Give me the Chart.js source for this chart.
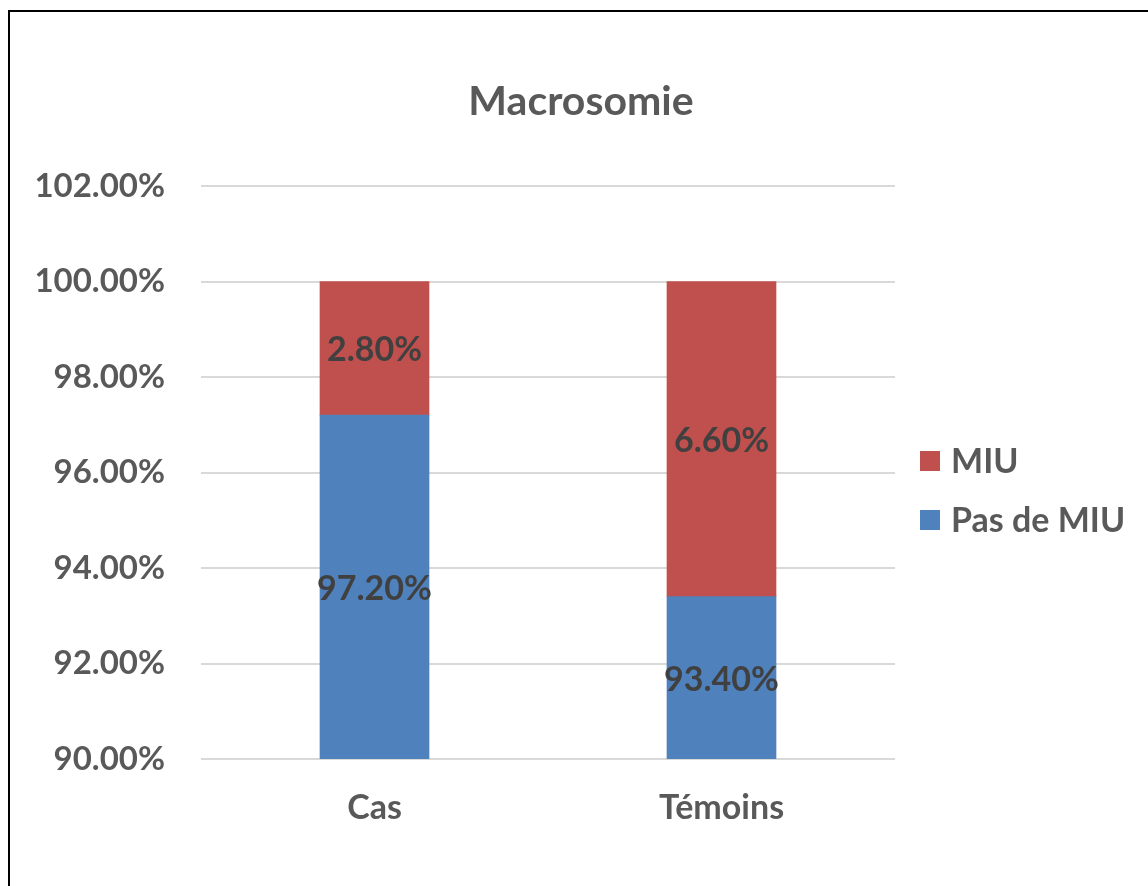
<!DOCTYPE html>
<html>
<head>
<meta charset="utf-8">
<script src="https://cdn.jsdelivr.net/npm/chart.js@4.4.1/dist/chart.umd.min.js"></script>
<style>
  html, body { margin: 0; padding: 0; background: #ffffff; }
  #wrap { position: relative; width: 1148px; height: 886px; overflow: hidden; }
  #frame { position: absolute; left: 8px; top: 10px; width: 1200px; height: 900px;
           border-left: 2px solid #000; border-top: 2px solid #000; box-sizing: border-box; pointer-events: none; }
  canvas { position: absolute; left: 0; top: 0; }
</style>
</head>
<body>
<div id="wrap">
  <canvas id="c" width="1148" height="886"></canvas>
  <div id="frame"></div>
</div>
<script>
// Chart content
const chartTitle = 'Macrosomie';
const categories = ['Cas', 'Témoins'];
const seriesNames = ['Pas de MIU', 'MIU'];
const pasDeMiu = [97.2, 93.4];
const miu = [2.8, 6.6];
const yTicks = [90, 92, 94, 96, 98, 100, 102];

const FONT = 'Lato, "Open Sans", sans-serif';
const AXIS_COLOR = '#595959';
const LABEL_COLOR = '#404040';

// Value labels centred in the visible part of every stacked segment
const segmentLabels = {
  id: 'segmentLabels',
  afterDatasetsDraw(chart) {
    const ctx = chart.ctx;
    const area = chart.chartArea;
    ctx.save();
    ctx.font = 'bold 34px ' + FONT;
    ctx.fillStyle = LABEL_COLOR;
    ctx.textAlign = 'center';
    ctx.textBaseline = 'middle';
    chart.data.datasets.forEach((ds, di) => {
      const meta = chart.getDatasetMeta(di);
      meta.data.forEach((el, i) => {
        const p = el.getProps(['x', 'y', 'base'], true);
        const top = Math.max(Math.min(p.y, p.base), area.top);
        const bottom = Math.min(Math.max(p.y, p.base), area.bottom);
        ctx.fillText(ds.data[i].toFixed(2) + '%', p.x, (top + bottom) / 2 + 2);
      });
    });
    ctx.restore();
  }
};

// Title and legend (legend lists the top series first)
const titleAndLegend = {
  id: 'titleAndLegend',
  afterDraw(chart) {
    const ctx = chart.ctx;
    ctx.save();
    ctx.fillStyle = AXIS_COLOR;
    ctx.textBaseline = 'middle';
    ctx.textAlign = 'center';
    ctx.font = 'bold 41px ' + FONT;
    ctx.fillText(chartTitle, 581, 102);

    ctx.textAlign = 'left';
    ctx.font = 'bold 34px ' + FONT;
    const order = [1, 0];
    order.forEach((di, k) => {
      const ds = chart.data.datasets[di];
      const cy = 461 + k * 59;
      ctx.fillStyle = ds.backgroundColor;
      ctx.fillRect(920, cy - 10, 20, 20);
      ctx.fillStyle = AXIS_COLOR;
      ctx.fillText(ds.label, 951, cy + 1);
    });
    ctx.restore();
  }
};

new Chart(document.getElementById('c'), {
  type: 'bar',
  data: {
    labels: categories,
    datasets: [
      { label: seriesNames[0], data: pasDeMiu, backgroundColor: '#4F81BD' },
      { label: seriesNames[1], data: miu, backgroundColor: '#C0504D' }
    ]
  },
  options: {
    responsive: false,
    animation: false,
    devicePixelRatio: 1,
    layout: { padding: { top: 186, right: 253, bottom: 0, left: 0 } },
    datasets: { bar: { barThickness: 109, borderWidth: 0 } },
    plugins: {
      legend: { display: false },
      title: { display: false },
      tooltip: { enabled: false }
    },
    scales: {
      x: {
        stacked: true,
        grid: { display: false, drawTicks: false },
        border: { display: false },
        ticks: { color: AXIS_COLOR, font: { family: FONT, size: 34, weight: 'bold' }, padding: 29 },
        afterFit(scale) { scale.height = 127; }
      },
      y: {
        stacked: true,
        min: yTicks[0],
        max: yTicks[yTicks.length - 1],
        afterBuildTicks(scale) { scale.ticks = yTicks.map(v => ({ value: v })); },
        grid: { color: '#d9d9d9', lineWidth: 2, drawTicks: false },
        border: { display: false },
        ticks: {
          color: AXIS_COLOR,
          font: { family: FONT, size: 33, weight: 'bold' },
          padding: 36,
          callback: v => Number(v).toFixed(2) + '%'
        },
        afterFit(scale) { scale.width = 201; }
      }
    }
  },
  plugins: [segmentLabels, titleAndLegend]
});
</script>
</body>
</html>
